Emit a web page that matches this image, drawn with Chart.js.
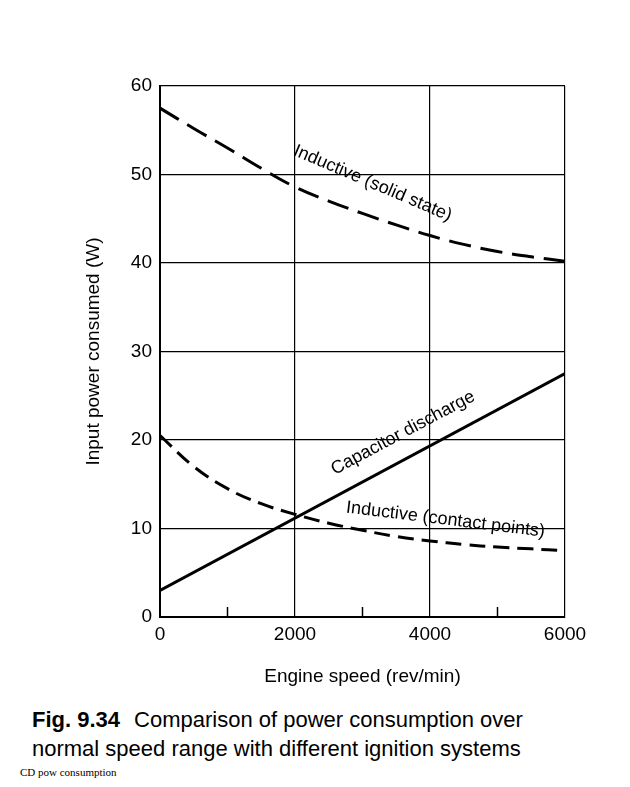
<!DOCTYPE html>
<html>
<head>
<script src="https://cdn.jsdelivr.net/npm/chart.js@4"></script>
<style>
  body { margin: 0; background: #fff; font-family: "Liberation Sans", Arial, sans-serif; }
  #wrap { position: relative; width: 630px; height: 787px; }
  #caption { position: absolute; left: 32px; top: 705px; font-size: 22px; line-height: 29px; color: #000; }
  #caption b { margin-right: 14px; }
  #src { position: absolute; left: 20px; top: 766px; font-family: "Liberation Serif", serif; font-size: 11px; }
</style>
</head>
<body>
<div id="wrap">
  <canvas id="powerChart" width="630" height="692"></canvas>
  <div id="caption"><b>Fig. 9.34</b>Comparison of power consumption over<br>normal speed range with different ignition systems</div>
  <div id="src">CD pow consumption</div>
</div>
<script>
const speeds = [0, 500, 1000, 1500, 2000, 2500, 3000, 3500, 4000, 4500, 5000, 5500, 6000];
const solidState = [57.5, 55.2, 53, 50.7, 48.6, 47, 45.6, 44.3, 43.1, 42.1, 41.3, 40.7, 40.2];
const contactPoints = [20.5, 17, 14.5, 12.8, 11.6, 10.6, 9.8, 9.1, 8.6, 8.2, 7.9, 7.7, 7.5];
const capacitor = [[0, 3], [6000, 27.5]];

// rotated labels along curves
const labels = [
    { text: "Inductive (solid state)", x: 3150, y: 49.0, angle: 23 },
    { text: "Capacitor discharge", x: 3600, y: 20.8, angle: -28 },
    { text: "Inductive (contact points)", x: 4230, y: 11.0, angle: 7 }
];

const curveLabels = {
    id: "curveLabels",
    afterDatasetsDraw(chart) {
        const { ctx, scales } = chart;
        ctx.save();
        ctx.font = "18px 'Liberation Sans', Arial, sans-serif";
        ctx.fillStyle = "#000";
        ctx.textAlign = "center";
        ctx.textBaseline = "middle";
        labels.forEach(l => {
            ctx.save();
            ctx.translate(scales.x.getPixelForValue(l.x), scales.y.getPixelForValue(l.y));
            ctx.rotate(l.angle * Math.PI / 180);
            ctx.fillText(l.text, 0, 0);
            ctx.restore();
        });
        // short inner ticks on the x axis
        ctx.strokeStyle = "#000";
        ctx.lineWidth = 1.5;
        [1000, 3000, 5000].forEach(v => {
            const px = scales.x.getPixelForValue(v);
            ctx.beginPath();
            ctx.moveTo(px, scales.y.bottom);
            ctx.lineTo(px, scales.y.bottom - 10);
            ctx.stroke();
        });
        ctx.restore();
    }
};

new Chart(document.getElementById("powerChart"), {
    type: "line",
    data: {
        datasets: [
            {
                label: "Inductive (solid state)",
                data: speeds.map((s, i) => ({ x: s, y: solidState[i] })),
                borderColor: "#000", borderWidth: 3, borderDash: [22, 10],
                pointRadius: 0, tension: 0.4, fill: false
            },
            {
                label: "Inductive (contact points)",
                data: speeds.map((s, i) => ({ x: s, y: contactPoints[i] })),
                borderColor: "#000", borderWidth: 3, borderDash: [16, 8],
                pointRadius: 0, tension: 0.4, fill: false
            },
            {
                label: "Capacitor discharge",
                data: capacitor.map(p => ({ x: p[0], y: p[1] })),
                borderColor: "#000", borderWidth: 3,
                pointRadius: 0, fill: false
            }
        ]
    },
    options: {
        responsive: false,
        animation: false,
        layout: { padding: { top: 86, right: 65, left: 78, bottom: 0 } },
        plugins: { legend: { display: false }, tooltip: { enabled: false } },
        scales: {
            x: {
                type: "linear", min: 0, max: 6000,
                afterFit: s => { s.height = 75; },
                ticks: { stepSize: 2000, color: "#000", padding: 6, font: { size: 19, family: "Liberation Sans" },
                         callback: v => String(v) },
                grid: { color: "#000", lineWidth: 1.2, drawTicks: false },
                border: { color: "#000", width: 2 },
                title: { display: true, text: "Engine speed (rev/min)", color: "#000", font: { size: 19, family: "Liberation Sans" }, padding: { top: 12 } }
            },
            y: {
                min: 0, max: 60,
                afterFit: s => { s.width = 82; },
                ticks: { stepSize: 10, color: "#000", padding: 8, font: { size: 19, family: "Liberation Sans" } },
                grid: { color: "#000", lineWidth: 1.2, drawTicks: false },
                border: { color: "#000", width: 2 },
                title: { display: true, text: "Input power consumed (W)", color: "#000", font: { size: 19, family: "Liberation Sans" }, padding: { bottom: 4 } }
            }
        }
    },
    plugins: [curveLabels]
});
</script>
</body>
</html>
